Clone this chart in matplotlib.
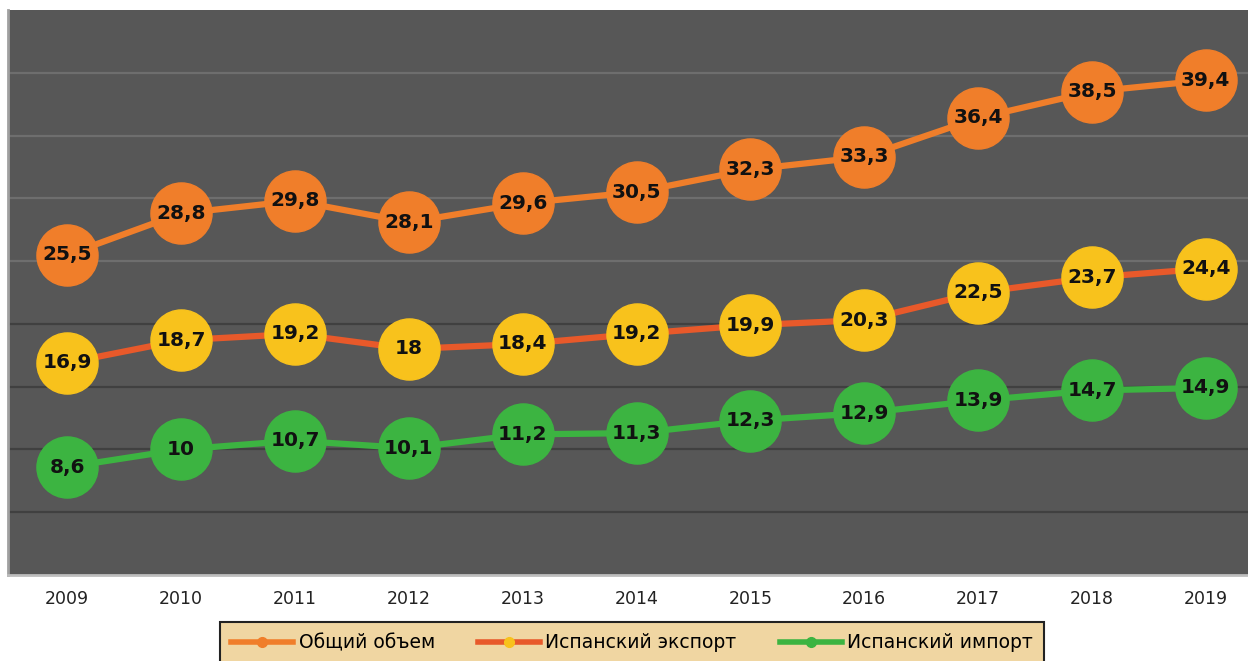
import matplotlib.pyplot as plt
from matplotlib.lines import Line2D

years = ['2009', '2010', '2011', '2012', '2013', '2014', '2015', '2016', '2017', '2018', '2019']
total = [25.5, 28.8, 29.8, 28.1, 29.6, 30.5, 32.3, 33.3, 36.4, 38.5, 39.4]
export = [16.9, 18.7, 19.2, 18.0, 18.4, 19.2, 19.9, 20.3, 22.5, 23.7, 24.4]
imports = [8.6, 10.0, 10.7, 10.1, 11.2, 11.3, 12.3, 12.9, 13.9, 14.7, 14.9]

labels = ['Общий объем', 'Испанский экспорт', 'Испанский импорт']
grid_levels = [5, 10, 15, 20, 25, 30, 35, 40]

fig = plt.figure(figsize=(12.48, 6.61), dpi=100)
ax = fig.add_axes([8 / 1248, 86 / 661, 1 - 8 / 1248, 565 / 661])
ax.set_facecolor('#575757')

for g in grid_levels:
    c = '#6e6e6e' if g >= 25 else '#404040'
    ax.axhline(g, color=c, linewidth=1.6, zorder=1)

x = list(range(len(years)))
series = [
    (total, '#f07e2a', '#f07e2a'),
    (export, '#e8592a', '#f8c21c'),
    (imports, '#3cb441', '#3cb441'),
]
for vals, line_c, mark_c in series:
    ax.plot(x, vals, color=line_c, linewidth=4.5, zorder=2, solid_capstyle='round')
    ax.plot(x, vals, linestyle='none', marker='o', markersize=44,
            markerfacecolor=mark_c, markeredgecolor=mark_c, zorder=3)
    for xi, v in zip(x, vals):
        ax.text(xi, v, f'{v:g}'.replace('.', ','), ha='center', va='center',
                fontsize=14.5, fontweight='bold', color='#111111', zorder=4)

ax.set_xlim(-0.52, 10.37)
ax.set_ylim(0, 45)
ax.set_xticks(x)
ax.set_xticklabels(years, fontsize=12.5, color='#222222')
ax.tick_params(axis='x', length=0, pad=11)
ax.set_yticks([])
for s in ['top', 'right']:
    ax.spines[s].set_visible(False)
ax.spines['left'].set_color('#a0a0a0')
ax.spines['left'].set_linewidth(2)
ax.spines['bottom'].set_color('#bdbdbd')
ax.spines['bottom'].set_linewidth(2)

handles = [
    Line2D([], [], color='#f07e2a', linewidth=4, marker='o', markersize=7,
           markerfacecolor='#f07e2a', markeredgecolor='#f07e2a'),
    Line2D([], [], color='#e8592a', linewidth=4, marker='o', markersize=7,
           markerfacecolor='#f8c21c', markeredgecolor='#f8c21c'),
    Line2D([], [], color='#3cb441', linewidth=4, marker='o', markersize=7,
           markerfacecolor='#3cb441', markeredgecolor='#3cb441'),
]
leg = fig.legend(handles, labels, loc='upper center', bbox_to_anchor=(0.5064, 39 / 661),
                 ncol=3, fontsize=13.5, frameon=True, fancybox=False, handlelength=3.3,
                 columnspacing=2.3, borderpad=0.6, handletextpad=0.3, borderaxespad=0)
frame = leg.get_frame()
frame.set_facecolor('#f0d6a2')
frame.set_edgecolor('#222222')
frame.set_linewidth(1.5)
frame.set_alpha(1)

fig.savefig('out.png', dpi=100)
